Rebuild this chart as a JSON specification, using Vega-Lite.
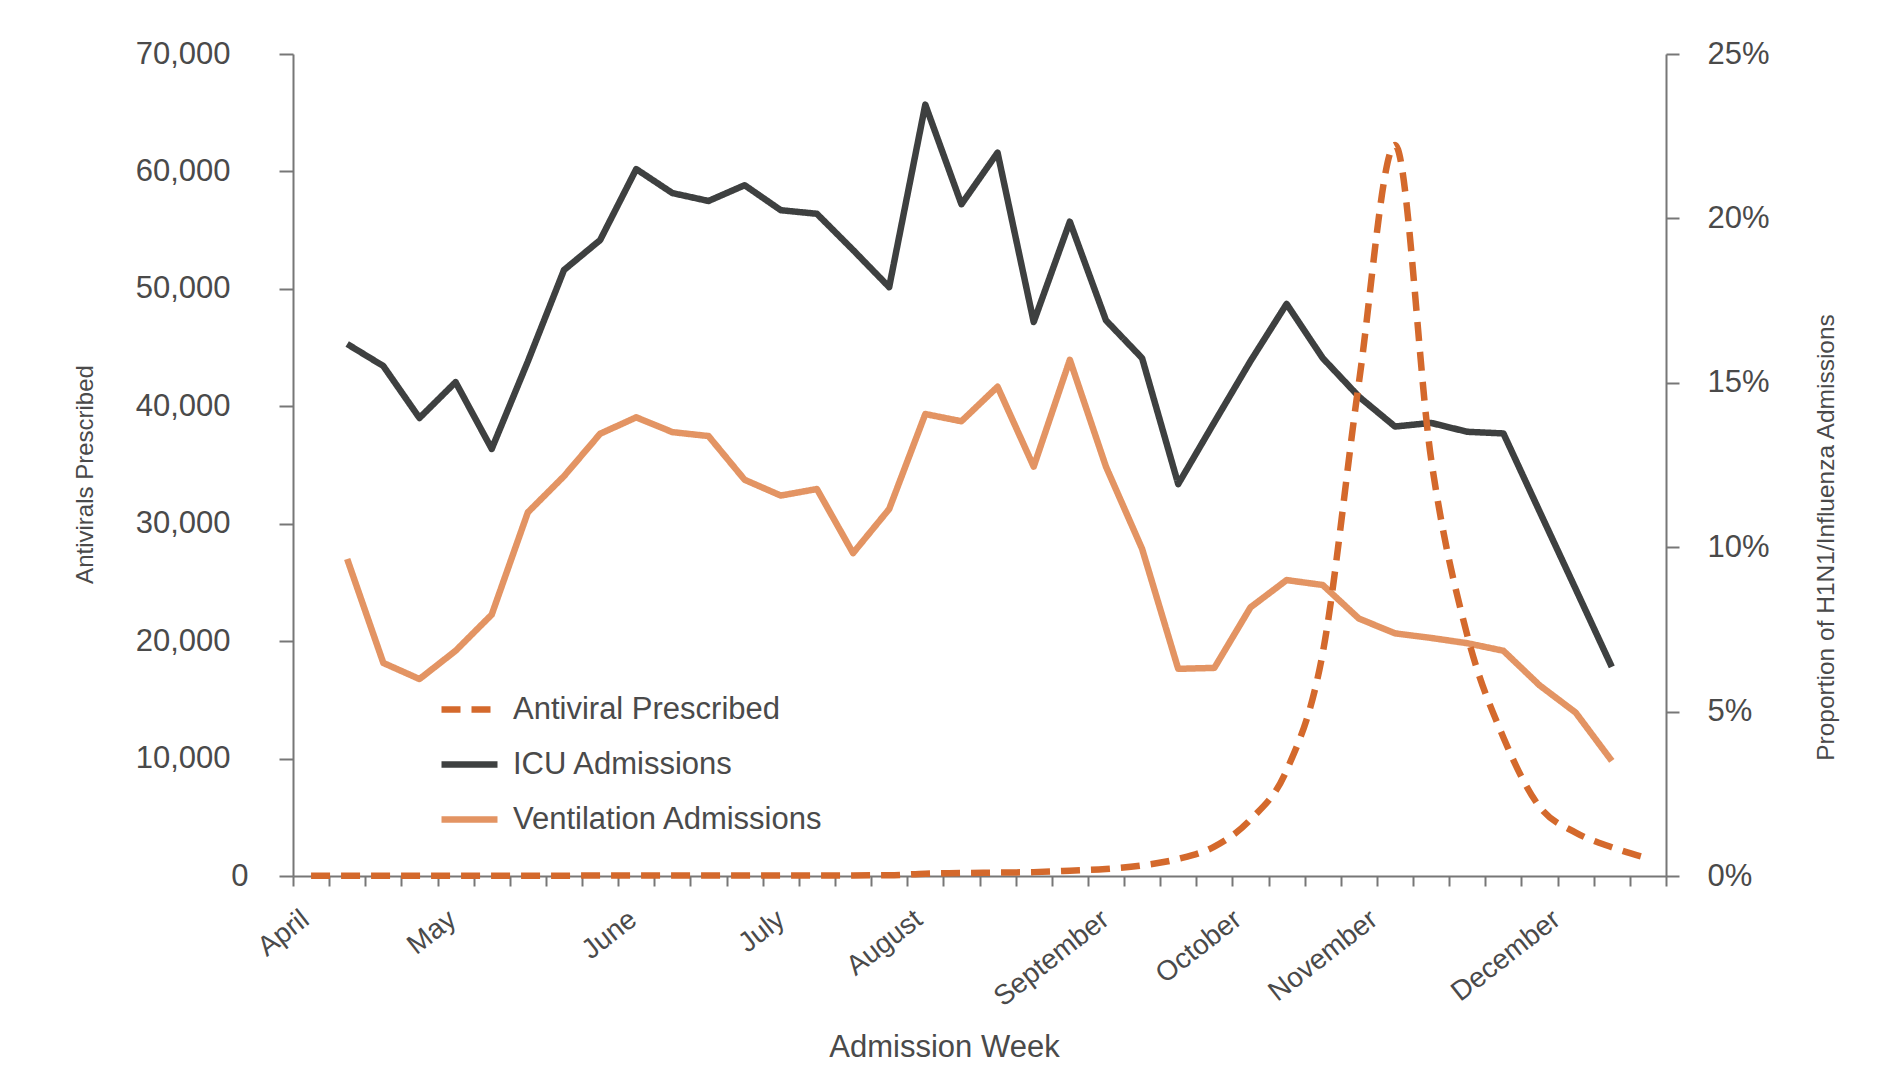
{
  "$schema": "https://vega.github.io/schema/vega-lite/v6.json",
  "width": 1373,
  "height": 822,
  "autosize": "none",
  "padding": {"left": 293, "top": 54, "right": 213, "bottom": 203},
  "background": "white",
  "config": {"view": {"stroke": null}},
  "data": {"values": [
    {"week": 1, "series": "Antiviral Prescribed", "value": 30},
    {"week": 2, "series": "Antiviral Prescribed", "value": 30},
    {"week": 3, "series": "Antiviral Prescribed", "value": 30},
    {"week": 4, "series": "Antiviral Prescribed", "value": 30},
    {"week": 5, "series": "Antiviral Prescribed", "value": 30},
    {"week": 6, "series": "Antiviral Prescribed", "value": 30},
    {"week": 7, "series": "Antiviral Prescribed", "value": 30},
    {"week": 8, "series": "Antiviral Prescribed", "value": 30},
    {"week": 9, "series": "Antiviral Prescribed", "value": 40},
    {"week": 10, "series": "Antiviral Prescribed", "value": 40},
    {"week": 11, "series": "Antiviral Prescribed", "value": 40},
    {"week": 12, "series": "Antiviral Prescribed", "value": 40},
    {"week": 13, "series": "Antiviral Prescribed", "value": 40},
    {"week": 14, "series": "Antiviral Prescribed", "value": 40},
    {"week": 15, "series": "Antiviral Prescribed", "value": 40},
    {"week": 16, "series": "Antiviral Prescribed", "value": 50},
    {"week": 17, "series": "Antiviral Prescribed", "value": 60},
    {"week": 18, "series": "Antiviral Prescribed", "value": 200},
    {"week": 19, "series": "Antiviral Prescribed", "value": 250},
    {"week": 20, "series": "Antiviral Prescribed", "value": 290},
    {"week": 21, "series": "Antiviral Prescribed", "value": 330},
    {"week": 22, "series": "Antiviral Prescribed", "value": 450},
    {"week": 23, "series": "Antiviral Prescribed", "value": 600},
    {"week": 24, "series": "Antiviral Prescribed", "value": 900},
    {"week": 25, "series": "Antiviral Prescribed", "value": 1450},
    {"week": 26, "series": "Antiviral Prescribed", "value": 2500},
    {"week": 27, "series": "Antiviral Prescribed", "value": 4800},
    {"week": 28, "series": "Antiviral Prescribed", "value": 9000},
    {"week": 29, "series": "Antiviral Prescribed", "value": 19000},
    {"week": 30, "series": "Antiviral Prescribed", "value": 42000},
    {"week": 31, "series": "Antiviral Prescribed", "value": 62250},
    {"week": 32, "series": "Antiviral Prescribed", "value": 35500},
    {"week": 33, "series": "Antiviral Prescribed", "value": 20500},
    {"week": 34, "series": "Antiviral Prescribed", "value": 11800},
    {"week": 35, "series": "Antiviral Prescribed", "value": 5900},
    {"week": 36, "series": "Antiviral Prescribed", "value": 3700},
    {"week": 37, "series": "Antiviral Prescribed", "value": 2450},
    {"week": 38, "series": "Antiviral Prescribed", "value": 1500},
    {"week": 2, "series": "ICU Admissions", "value": 16.18},
    {"week": 3, "series": "ICU Admissions", "value": 15.51},
    {"week": 4, "series": "ICU Admissions", "value": 13.93},
    {"week": 5, "series": "ICU Admissions", "value": 15.02},
    {"week": 6, "series": "ICU Admissions", "value": 12.99},
    {"week": 7, "series": "ICU Admissions", "value": 15.65},
    {"week": 8, "series": "ICU Admissions", "value": 18.43},
    {"week": 9, "series": "ICU Admissions", "value": 19.34},
    {"week": 10, "series": "ICU Admissions", "value": 21.5},
    {"week": 11, "series": "ICU Admissions", "value": 20.77},
    {"week": 12, "series": "ICU Admissions", "value": 20.53},
    {"week": 13, "series": "ICU Admissions", "value": 21.01},
    {"week": 14, "series": "ICU Admissions", "value": 20.25},
    {"week": 15, "series": "ICU Admissions", "value": 20.14},
    {"week": 16, "series": "ICU Admissions", "value": 19.04},
    {"week": 17, "series": "ICU Admissions", "value": 17.91},
    {"week": 18, "series": "ICU Admissions", "value": 23.46},
    {"week": 19, "series": "ICU Admissions", "value": 20.43},
    {"week": 20, "series": "ICU Admissions", "value": 22.0},
    {"week": 21, "series": "ICU Admissions", "value": 16.85},
    {"week": 22, "series": "ICU Admissions", "value": 19.9},
    {"week": 23, "series": "ICU Admissions", "value": 16.9},
    {"week": 24, "series": "ICU Admissions", "value": 15.75},
    {"week": 25, "series": "ICU Admissions", "value": 11.92},
    {"week": 26, "series": "ICU Admissions", "value": 13.8},
    {"week": 27, "series": "ICU Admissions", "value": 15.66},
    {"week": 28, "series": "ICU Admissions", "value": 17.4},
    {"week": 29, "series": "ICU Admissions", "value": 15.75},
    {"week": 30, "series": "ICU Admissions", "value": 14.58},
    {"week": 31, "series": "ICU Admissions", "value": 13.67},
    {"week": 32, "series": "ICU Admissions", "value": 13.78},
    {"week": 33, "series": "ICU Admissions", "value": 13.51},
    {"week": 34, "series": "ICU Admissions", "value": 13.46},
    {"week": 35, "series": "ICU Admissions", "value": 11.09},
    {"week": 36, "series": "ICU Admissions", "value": 8.73},
    {"week": 37, "series": "ICU Admissions", "value": 6.36},
    {"week": 2, "series": "Ventilation Admissions", "value": 9.64},
    {"week": 3, "series": "Ventilation Admissions", "value": 6.48},
    {"week": 4, "series": "Ventilation Admissions", "value": 5.99},
    {"week": 5, "series": "Ventilation Admissions", "value": 6.85},
    {"week": 6, "series": "Ventilation Admissions", "value": 7.95},
    {"week": 7, "series": "Ventilation Admissions", "value": 11.06},
    {"week": 8, "series": "Ventilation Admissions", "value": 12.16},
    {"week": 9, "series": "Ventilation Admissions", "value": 13.45},
    {"week": 10, "series": "Ventilation Admissions", "value": 13.95},
    {"week": 11, "series": "Ventilation Admissions", "value": 13.5},
    {"week": 12, "series": "Ventilation Admissions", "value": 13.38},
    {"week": 13, "series": "Ventilation Admissions", "value": 12.05},
    {"week": 14, "series": "Ventilation Admissions", "value": 11.57},
    {"week": 15, "series": "Ventilation Admissions", "value": 11.77},
    {"week": 16, "series": "Ventilation Admissions", "value": 9.82},
    {"week": 17, "series": "Ventilation Admissions", "value": 11.16},
    {"week": 18, "series": "Ventilation Admissions", "value": 14.05},
    {"week": 19, "series": "Ventilation Admissions", "value": 13.83},
    {"week": 20, "series": "Ventilation Admissions", "value": 14.88},
    {"week": 21, "series": "Ventilation Admissions", "value": 12.45},
    {"week": 22, "series": "Ventilation Admissions", "value": 15.7},
    {"week": 23, "series": "Ventilation Admissions", "value": 12.45},
    {"week": 24, "series": "Ventilation Admissions", "value": 9.95},
    {"week": 25, "series": "Ventilation Admissions", "value": 6.3},
    {"week": 26, "series": "Ventilation Admissions", "value": 6.33},
    {"week": 27, "series": "Ventilation Admissions", "value": 8.17},
    {"week": 28, "series": "Ventilation Admissions", "value": 9.0},
    {"week": 29, "series": "Ventilation Admissions", "value": 8.85},
    {"week": 30, "series": "Ventilation Admissions", "value": 7.83},
    {"week": 31, "series": "Ventilation Admissions", "value": 7.38},
    {"week": 32, "series": "Ventilation Admissions", "value": 7.24},
    {"week": 33, "series": "Ventilation Admissions", "value": 7.08},
    {"week": 34, "series": "Ventilation Admissions", "value": 6.85},
    {"week": 35, "series": "Ventilation Admissions", "value": 5.8},
    {"week": 36, "series": "Ventilation Admissions", "value": 4.97},
    {"week": 37, "series": "Ventilation Admissions", "value": 3.5}
  ]},
  "encoding": {
    "x": {
      "field": "week",
      "type": "quantitative",
      "scale": {"domain": [0.5, 38.5], "nice": false, "zero": false},
      "axis": {
        "values": [0.5, 1.5, 2.5, 3.5, 4.5, 5.5, 6.5, 7.5, 8.5, 9.5, 10.5, 11.5, 12.5, 13.5, 14.5, 15.5, 16.5, 17.5, 18.5, 19.5, 20.5, 21.5, 22.5, 23.5, 24.5, 25.5, 26.5, 27.5, 28.5, 29.5, 30.5, 31.5, 32.5, 33.5, 34.5, 35.5, 36.5, 37.5, 38.5],
        "labelExpr": "datum.value == 0.5 ? 'April' : datum.value == 4.5 ? 'May' : datum.value == 9.5 ? 'June' : datum.value == 13.5 ? 'July' : datum.value == 17.5 ? 'August' : datum.value == 22.5 ? 'September' : datum.value == 26.5 ? 'October' : datum.value == 30.5 ? 'November' : datum.value == 35.5 ? 'December' : ''",
        "labelAngle": -38,
        "labelAlign": "right",
        "labelBaseline": "middle",
        "labelOffset": {
          "condition": [
            {"test": "datum.value == 0.5", "value": 12.5},
            {"test": "datum.value == 13.5", "value": 18.5},
            {"test": "datum.value == 17.5", "value": 11.5},
            {"test": "datum.value == 22.5", "value": 17.5},
            {"test": "datum.value == 26.5", "value": 5.5},
            {"test": "datum.value == 30.5", "value": -3},
            {"test": "datum.value == 35.5", "value": -1}
          ],
          "value": 15
        },
        "labelPadding": 30,
        "labelFont": "Liberation Sans",
        "labelFontSize": 28,
        "labelColor": "#4a4a4a",
        "labelOverlap": false,
        "labelFlush": false,
        "tickSize": 10,
        "tickWidth": 2,
        "tickColor": "#777777",
        "domainColor": "#777777",
        "domainWidth": 2,
        "grid": false,
        "title": "Admission Week",
        "titleX": 651,
        "titleY": 171,
        "titleAlign": "center",
        "titleBaseline": "middle",
        "titleFont": "Liberation Sans",
        "titleFontSize": 31,
        "titleFontWeight": "normal",
        "titleColor": "#4a4a4a"
      }
    }
  },
  "layer": [
    {
      "transform": [{"filter": "datum.series !== 'Antiviral Prescribed'"}],
      "mark": {"type": "line", "strokeWidth": 6.5, "strokeJoin": "round", "strokeCap": "butt"},
      "encoding": {
        "y": {
          "field": "value",
          "type": "quantitative",
          "scale": {"domain": [0, 25], "nice": false},
          "axis": {
            "orient": "right",
            "values": [0, 5, 10, 15, 20, 25],
            "labelExpr": "datum.value + '%'",
            "labelAlign": "left",
            "labelBaseline": "middle",
            "labelPadding": 28,
            "labelFont": "Liberation Sans",
            "labelFontSize": 31,
            "labelColor": "#4a4a4a",
            "tickSize": 13,
            "tickWidth": 2,
            "tickColor": "#777777",
            "domainColor": "#777777",
            "domainWidth": 2,
            "grid": false,
            "title": "Proportion of H1N1/Influenza Admissions",
            "titleAngle": -90,
            "titleX": 160,
            "titleY": 483,
            "titleAlign": "center",
            "titleBaseline": "middle",
            "titleFont": "Liberation Sans",
            "titleFontSize": 24.5,
            "titleFontWeight": "normal",
            "titleColor": "#4a4a4a"
          }
        },
        "color": {
          "field": "series",
          "type": "nominal",
          "scale": {"domain": ["Antiviral Prescribed", "ICU Admissions", "Ventilation Admissions"], "range": ["#D4692C", "#3E4040", "#E39463"]},
          "legend": {
            "orient": "none",
            "legendX": 145,
            "legendY": 624,
            "title": null,
            "symbolType": "stroke",
            "symbolSize": 3136,
            "symbolStrokeWidth": 6.5,
            "labelFont": "Liberation Sans",
            "labelFontSize": 31,
            "labelColor": "#4a4a4a",
            "labelOffset": 12,
            "labelLimit": 0,
            "rowPadding": 8,
            "padding": 0
          }
        },
        "strokeDash": {
          "field": "series",
          "type": "nominal",
          "scale": {"domain": ["Antiviral Prescribed", "ICU Admissions", "Ventilation Admissions"], "range": [[19, 11], [1, 0], [1, 0]]}
        }
      }
    },
    {
      "transform": [{"filter": "datum.series === 'Antiviral Prescribed'"}],
      "mark": {"type": "line", "strokeWidth": 6.5, "interpolate": "monotone", "strokeCap": "butt"},
      "encoding": {
        "y": {
          "field": "value",
          "type": "quantitative",
          "scale": {"domain": [0, 70000], "nice": false},
          "axis": {
            "orient": "left",
            "values": [0, 10000, 20000, 30000, 40000, 50000, 60000, 70000],
            "format": ",.0f",
            "labelAlign": "right",
            "labelBaseline": "middle",
            "labelPadding": {"condition": {"test": "datum.value === 0", "value": 31}, "value": 49},
            "labelFont": "Liberation Sans",
            "labelFontSize": 31,
            "labelColor": "#4a4a4a",
            "tickSize": 14,
            "tickWidth": 2,
            "tickColor": "#777777",
            "domainColor": "#777777",
            "domainWidth": 2,
            "grid": false,
            "title": "Antivirals Prescribed",
            "titleAngle": -90,
            "titleX": -208,
            "titleY": 420,
            "titleAlign": "center",
            "titleBaseline": "middle",
            "titleFont": "Liberation Sans",
            "titleFontSize": 24,
            "titleFontWeight": "normal",
            "titleColor": "#4a4a4a"
          }
        },
        "color": {
          "field": "series",
          "type": "nominal",
          "scale": {"domain": ["Antiviral Prescribed", "ICU Admissions", "Ventilation Admissions"], "range": ["#D4692C", "#3E4040", "#E39463"]}
        },
        "strokeDash": {
          "field": "series",
          "type": "nominal",
          "scale": {"domain": ["Antiviral Prescribed", "ICU Admissions", "Ventilation Admissions"], "range": [[19, 11], [1, 0], [1, 0]]}
        }
      }
    }
  ],
  "resolve": {"scale": {"y": "independent"}}
}
